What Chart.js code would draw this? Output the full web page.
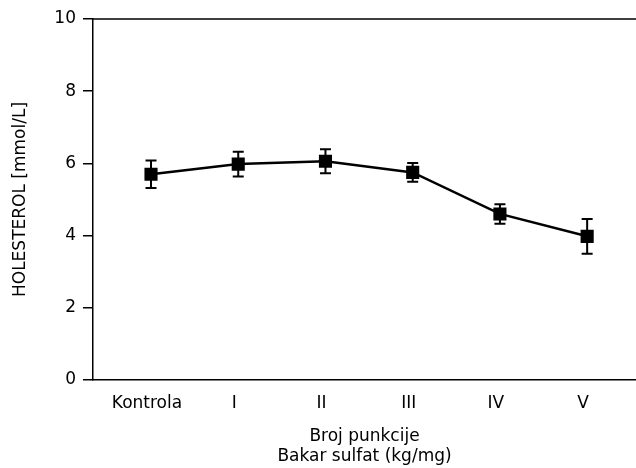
<!DOCTYPE html>
<html>
<head>
<meta charset="utf-8">
<script src="https://cdn.jsdelivr.net/npm/chart.js"></script>
<style>
  html, body { margin: 0; padding: 0; background: #fff; }
  #wrap { width: 636px; height: 468px; }
</style>
</head>
<body>
<div id="wrap"><canvas id="chart" width="636" height="468"></canvas></div>
<script>
// Podaci
var categories = ['Kontrola', 'I', 'II', 'III', 'IV', 'V'];
var means = [5.7, 5.98, 6.06, 5.75, 4.6, 3.98];
var errors = [0.38, 0.34, 0.33, 0.26, 0.27, 0.48];
var yTicks = [0, 2, 4, 6, 8, 10];

var fontFamily = "'DejaVu Sans', sans-serif";
var fontSize = 17;

var points = [];
for (var i = 0; i < means.length; i++) {
    points.push({ x: i, y: means[i] });
}

// Error bars i gornja linija okvira
var errorBars = {
    id: 'errorBars',
    beforeDatasetsDraw: function (chart) {
        var ctx = chart.ctx;
        var xs = chart.scales.x, ys = chart.scales.y;
        ctx.save();
        ctx.strokeStyle = '#000';
        ctx.lineWidth = 2;
        for (var i = 0; i < means.length; i++) {
            var px = xs.getPixelForValue(i);
            var top = ys.getPixelForValue(means[i] + errors[i]);
            var bot = ys.getPixelForValue(means[i] - errors[i]);
            ctx.beginPath();
            ctx.moveTo(px, top); ctx.lineTo(px, bot);
            ctx.moveTo(px - 5.5, top); ctx.lineTo(px + 5.5, top);
            ctx.moveTo(px - 5.5, bot); ctx.lineTo(px + 5.5, bot);
            ctx.stroke();
        }
        var a = chart.chartArea;
        ctx.lineWidth = 1.5;
        ctx.beginPath();
        ctx.moveTo(a.left, a.top); ctx.lineTo(a.right, a.top);
        ctx.stroke();
        ctx.restore();
    }
};

new Chart(document.getElementById('chart'), {
    type: 'line',
    data: {
        datasets: [{
            data: points,
            borderColor: '#000',
            backgroundColor: '#000',
            borderWidth: 2.5,
            pointStyle: 'rect',
            pointRadius: 7.5,
            pointHoverRadius: 7.5,
            fill: false,
            tension: 0
        }]
    },
    options: {
        responsive: false,
        animation: false,
        layout: {
            autoPadding: false,
            padding: { top: 19, right: 0, left: 0, bottom: 0 }
        },
        plugins: {
            legend: { display: false },
            tooltip: { enabled: false }
        },
        scales: {
            x: {
                type: 'linear',
                min: -0.665,
                max: 5.56,
                afterBuildTicks: function (scale) {
                    scale.ticks = categories.map(function (c, i) { return { value: i }; });
                },
                afterFit: function (scale) {
                    scale.height = 88;
                    scale.paddingLeft = 0;
                    scale.paddingRight = 0;
                },
                grid: { display: false, drawTicks: false, tickLength: 0 },
                border: { display: true, color: '#000', width: 1.5 },
                ticks: {
                    color: '#000',
                    font: { family: fontFamily, size: fontSize },
                    padding: 13,
                    labelOffset: -4,
                    maxRotation: 0,
                    autoSkip: false,
                    callback: function (v) { return categories[v]; }
                },
                title: {
                    display: true,
                    text: ['Broj punkcije', 'Bakar sulfat (kg/mg)'],
                    color: '#000',
                    font: { family: fontFamily, size: fontSize, lineHeight: 1.2 },
                    padding: { top: 0, bottom: 1 }
                }
            },
            y: {
                min: 0,
                max: 10,
                afterBuildTicks: function (scale) {
                    scale.ticks = yTicks.map(function (v) { return { value: v }; });
                },
                afterFit: function (scale) { scale.width = 93; },
                grid: {
                    display: true,
                    drawOnChartArea: false,
                    drawTicks: true,
                    tickLength: 10,
                    color: '#000',
                    lineWidth: 1.5
                },
                border: { display: true, color: '#000', width: 1.5 },
                ticks: {
                    color: '#000',
                    font: { family: fontFamily, size: fontSize },
                    padding: 7
                },
                title: {
                    display: true,
                    text: 'HOLESTEROL [mmol/L]',
                    color: '#000',
                    font: { family: fontFamily, size: fontSize },
                    padding: { top: 10, bottom: 0 }
                }
            }
        }
    },
    plugins: [errorBars]
});
</script>
</body>
</html>
